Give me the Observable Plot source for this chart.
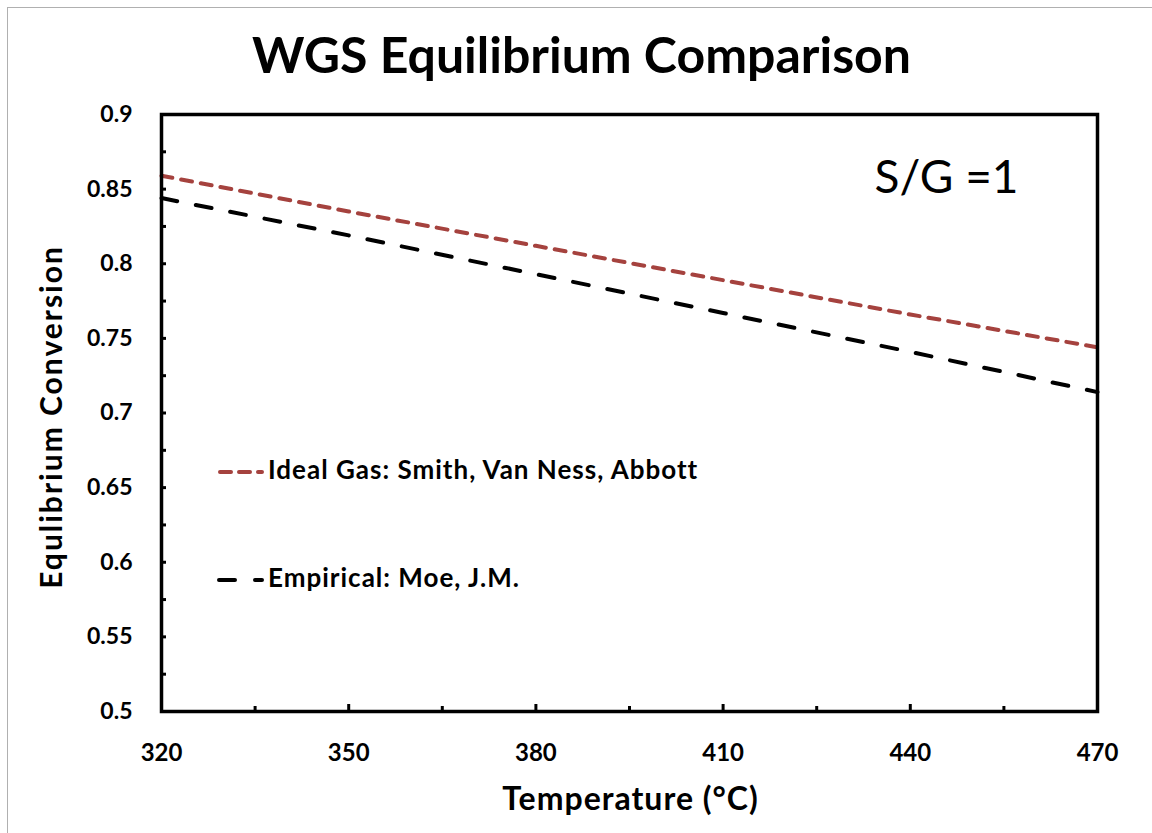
<!DOCTYPE html>
<html>
<head>
<meta charset="utf-8">
<script src="https://cdn.jsdelivr.net/npm/d3@7"></script>
<script src="https://cdn.jsdelivr.net/npm/@observablehq/plot@0.6"></script>
<style>
  html, body { margin: 0; padding: 0; background: #fff; }
  #wrap { position: relative; width: 1152px; height: 833px; overflow: hidden; font-family: Lato, "Open Sans", sans-serif; }
  #border { position: absolute; left: 7px; top: 7px; width: 1160px; height: 840px; border: 1px solid #b0b0b0; box-sizing: border-box; }
  #chart { position: absolute; left: 0; top: 0; }
  #legend { position: absolute; left: 0; top: 0; }
</style>
</head>
<body>
<div id="wrap">
  <div id="border"></div>
  <div id="chart"></div>
  <svg id="legend" width="1152" height="833" font-family="Lato, 'Open Sans', sans-serif">
    <line x1="220" y1="472" x2="262" y2="472" stroke="#A5423E" stroke-width="4" stroke-linecap="round" stroke-dasharray="11 8"/>
    <text x="268" y="479" font-size="26" font-weight="700" letter-spacing="1" fill="#000">Ideal Gas: Smith, Van Ness, Abbott</text>
    <line x1="219" y1="580" x2="262" y2="580" stroke="#000" stroke-width="4" stroke-linecap="round" stroke-dasharray="16 20"/>
    <text x="268" y="587" font-size="26" font-weight="700" letter-spacing="1" fill="#000">Empirical: Moe, J.M.</text>
  </svg>
</div>
<script>
const temperatures = [320, 350, 380, 410, 440, 470];
const idealGas = [0.859, 0.835, 0.812, 0.789, 0.766, 0.744];
const empirical = [0.844, 0.819, 0.793, 0.767, 0.741, 0.714];
const xTicks = [320, 350, 380, 410, 440, 470];
const xMinorTicks = [335, 365, 395, 425, 455];
const yTicks = [0.5, 0.55, 0.6, 0.65, 0.7, 0.75, 0.8, 0.85, 0.9];
const yMinorTicks = [0.525, 0.575, 0.625, 0.675, 0.725, 0.775, 0.825, 0.875];

const idealData = temperatures.map((t, i) => ({t, v: idealGas[i]}));
const empData = temperatures.map((t, i) => ({t, v: empirical[i]}));

const font = "Lato, 'Open Sans', sans-serif";

const chart = Plot.plot({
  width: 1152,
  height: 833,
  marginLeft: 161,
  marginRight: 55,
  marginTop: 114,
  marginBottom: 122,
  style: {fontFamily: font, background: "transparent", overflow: "visible"},
  x: {domain: [320, 470]},
  y: {domain: [0.5, 0.9]},
  marks: [
    Plot.line(idealData, {x: "t", y: "v", stroke: "#A5423E", strokeWidth: 4, strokeDasharray: "11 9", strokeLinecap: "round"}),
    Plot.line(empData, {x: "t", y: "v", stroke: "#000", strokeWidth: 4, strokeDasharray: "16 19", strokeLinecap: "round"}),
    // labels
    Plot.axisX({ticks: xTicks, tickSize: 0, tickPadding: 32, tickFormat: d => d, label: null,
      fontSize: 24, fontWeight: 700, fill: "#000"}),
    Plot.axisY({ticks: yTicks, tickSize: 0, tickPadding: 29, tickFormat: d => String(d), label: null,
      fontSize: 23, fontWeight: 700, fill: "#000"}),
    // tick marks (inside)
    Plot.axisX({ticks: xTicks, tickSize: -7, stroke: "#000", strokeWidth: 3, text: null, label: null}),
    Plot.axisX({ticks: xMinorTicks, tickSize: -5, stroke: "#000", strokeWidth: 3, text: null, label: null}),
    Plot.axisY({ticks: yTicks, tickSize: -5, stroke: "#000", strokeWidth: 3, text: null, label: null}),
    Plot.axisY({ticks: yMinorTicks, tickSize: -5, stroke: "#000", strokeWidth: 3, text: null, label: null}),
    Plot.frame({stroke: "#000", strokeWidth: 3.5}),
    Plot.text(["WGS Equilibrium Comparison"], {frameAnchor: "top", lineAnchor: "top", dy: -77, dx: -48, fontSize: 50, fontWeight: 700, fill: "#000"}),
    Plot.text(["S/G =1"], {frameAnchor: "top-right", lineAnchor: "top", textAnchor: "end", dx: -79, dy: 46, fontSize: 46, fill: "#000"}),
    Plot.text(["Temperature (°C)"], {frameAnchor: "bottom", lineAnchor: "middle", dy: 88, dx: 1, fontSize: 32, fontWeight: 700, fill: "#000"}),
    Plot.text(["Equlibrium Conversion"], {frameAnchor: "left", lineAnchor: "middle", textAnchor: "middle", dx: -109, dy: 4, fontSize: 30, fontWeight: 700, fill: "#000", rotate: -90})
  ]
});
document.getElementById("chart").appendChild(chart);
// letter spacing for axis titles (Calibri-like width)
chart.querySelectorAll("text").forEach(t => {
  const s = t.textContent;
  if (s === "Temperature (°C)") t.setAttribute("letter-spacing", "1");
  if (s === "Equlibrium Conversion") t.setAttribute("letter-spacing", "2");
});
</script>
</body>
</html>
